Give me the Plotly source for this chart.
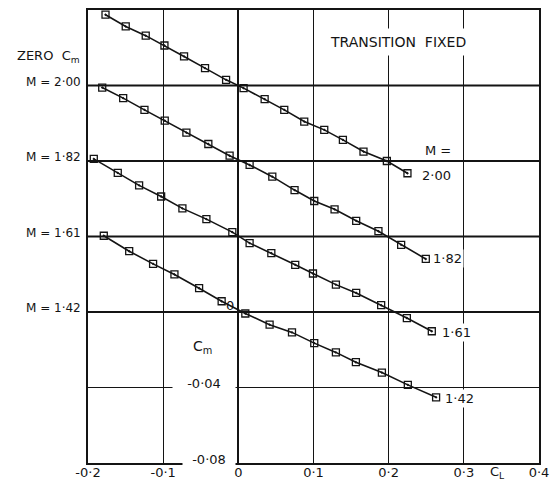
import plotly.graph_objects as go

# Pitching moment vs lift coefficient, transition fixed.
# Each Mach number is drawn on its own zero-Cm line, stacked 0.04 apart.
mach_labels = ["2·00", "1·82", "1·61", "1·42"]
zero_offsets = [0.12, 0.08, 0.04, 0.0]

cl_m200 = [-0.1767, -0.1498, -0.1232, -0.0983, -0.0722, -0.0443, -0.0163, 0.0070,
           0.0350, 0.0611, 0.0877, 0.1143, 0.1391, 0.1665, 0.1976, 0.2250]
cm_m200 = [0.0375, 0.0313, 0.0264, 0.0212, 0.0154, 0.0092, 0.0030, -0.0014,
           -0.0072, -0.0129, -0.0191, -0.0235, -0.0288, -0.0350, -0.0400, -0.0465]

cl_m182 = [-0.1811, -0.1532, -0.1249, -0.0979, -0.0691, -0.0399, -0.0116, 0.0150,
           0.0452, 0.0748, 0.1010, 0.1280, 0.1568, 0.1864, 0.2166, 0.2494]
cm_m182 = [0.0389, 0.0333, 0.0271, 0.0214, 0.0150, 0.0090, 0.0028, -0.0021,
           -0.0083, -0.0154, -0.0212, -0.0256, -0.0317, -0.0372, -0.0444, -0.0519]

cl_m161 = [-0.1923, -0.1604, -0.1320, -0.1027, -0.0744, -0.0425, -0.0080, 0.0150,
           0.0439, 0.0757, 0.0993, 0.1298, 0.1568, 0.1900, 0.2242, 0.2574]
cm_m161 = [0.0411, 0.0337, 0.0271, 0.0212, 0.0149, 0.0092, 0.0023, -0.0035,
           -0.0088, -0.0150, -0.0196, -0.0255, -0.0299, -0.0364, -0.0432, -0.0502]

cl_m142 = [-0.1790, -0.1452, -0.1134, -0.0850, -0.0522, -0.0222, 0.0093, 0.0416,
           0.0714, 0.1010, 0.1298, 0.1564, 0.1910, 0.2255, 0.2631]
cm_m142 = [0.0404, 0.0322, 0.0255, 0.0199, 0.0126, 0.0057, -0.0008, -0.0067,
           -0.0108, -0.0165, -0.0214, -0.0266, -0.0321, -0.0386, -0.0452]

x_ticks = [-0.2, -0.1, 0.0, 0.1, 0.2, 0.3, 0.4]
x_tick_text = ["-0·2", "-0·1", "0", "0·1", "0·2", "0·3", "0·4"]

series = [(cl_m200, cm_m200), (cl_m182, cm_m182), (cl_m161, cm_m161), (cl_m142, cm_m142)]

INK = "#141414"
FONT = "DejaVu Sans"


def txt(size=12):
    return dict(size=size, color=INK, family=FONT)


fig = go.Figure()

for (cl, cm), off in zip(series, zero_offsets):
    fig.add_trace(go.Scatter(
        x=cl, y=[v + off for v in cm],
        mode="lines+markers",
        line=dict(color=INK, width=1.6),
        marker=dict(symbol="square-open-dot", size=7, color=INK,
                    line=dict(color=INK, width=1.3)),
        showlegend=False, hoverinfo="skip", cliponaxis=False,
    ))

# heavier zero-Cm reference line for each Mach number
for off in zero_offsets[:-1]:
    fig.add_shape(type="line", xref="paper", x0=0, x1=1, yref="y", y0=off, y1=off,
                  line=dict(color=INK, width=2), layer="below")

ann = []
# Mach labels at the left of each zero line
for lab, off in zip(mach_labels, zero_offsets):
    ann.append(dict(text="M = " + lab, x=-0.2, xref="x", xanchor="right", xshift=-5,
                    y=off, yref="y", yanchor="middle", yshift=4, showarrow=False,
                    font=txt(12)))
ann.append(dict(text="ZERO  C<sub>m</sub>", x=-0.2, xref="x", xanchor="right", xshift=-6,
                y=zero_offsets[0], yref="y", yanchor="middle", yshift=29, showarrow=False,
                font=txt(13)))

# Mach labels at the right-hand end of each curve
for k, ((cl, cm), off, lab) in enumerate(zip(series, zero_offsets, mach_labels)):
    ann.append(dict(text=lab, x=cl[-1], xref="x", xanchor="left", xshift=[13, 5, 8, 7][k],
                    y=cm[-1] + off, yref="y", yanchor="middle", yshift=[-2, 0, -1, -1][k],
                    showarrow=False, bgcolor="white", borderpad=1, font=txt(13)))
ann.append(dict(text="M =", x=cl_m200[-1], xref="x", xanchor="left", xshift=16,
                y=cm_m200[-1] + zero_offsets[0], yref="y", yanchor="middle", yshift=23,
                showarrow=False, font=txt(13)))

ann.append(dict(text="TRANSITION  FIXED", x=0.2126, xref="x", y=0.1432, yref="y",
                showarrow=False, bgcolor="white", borderpad=5, font=txt(14)))

# Cm scale written inside the grid
ann.append(dict(text="0", x=0, xref="x", xanchor="right", xshift=-2, y=0, yref="y",
                yanchor="middle", yshift=7, showarrow=False, font=txt(13)))
ann.append(dict(text="C<sub>m</sub>", x=-0.0478, xref="x", y=-0.0187, yref="y",
                showarrow=False, font=txt(14)))
ann.append(dict(text="-0·04", x=0, xref="x", xanchor="right", xshift=-2, y=-0.04, yref="y",
                yanchor="middle", yshift=4, width=62, align="center", showarrow=False,
                bgcolor="white", borderpad=0, font=txt(13)))
ann.append(dict(text="-0·08", x=0, xref="x", xanchor="right", xshift=-2, y=-0.08, yref="y",
                yanchor="middle", yshift=4, width=52, align="center", showarrow=False,
                bgcolor="white", borderpad=0, font=txt(13)))
ann.append(dict(text="C<sub>L</sub>", x=0.3442, xref="x", y=0, yref="paper",
                yanchor="top", yshift=1, showarrow=False, font=txt(13)))

fig.update_layout(
    width=550, height=484,
    margin=dict(l=88, r=11, t=10, b=21),
    paper_bgcolor="white", plot_bgcolor="white",
    annotations=ann,
    font=dict(family=FONT, color=INK, size=12),
)
fig.update_xaxes(
    range=[-0.2, 0.4], tickvals=x_ticks, ticktext=x_tick_text, automargin=False,
    showgrid=True, gridcolor=INK, gridwidth=1,
    zeroline=True, zerolinecolor=INK, zerolinewidth=2,
    showline=True, linecolor=INK, linewidth=1.5, mirror=True,
    ticks="", ticklabelstandoff=-3, tickfont=txt(13),
)
fig.update_yaxes(
    range=[-0.08, 0.16], dtick=0.04, showticklabels=False, automargin=False,
    showgrid=True, gridcolor=INK, gridwidth=1,
    zeroline=True, zerolinecolor=INK, zerolinewidth=2,
    showline=True, linecolor=INK, linewidth=1.5, mirror=True, ticks="",
)

fig.write_html("out.html")
